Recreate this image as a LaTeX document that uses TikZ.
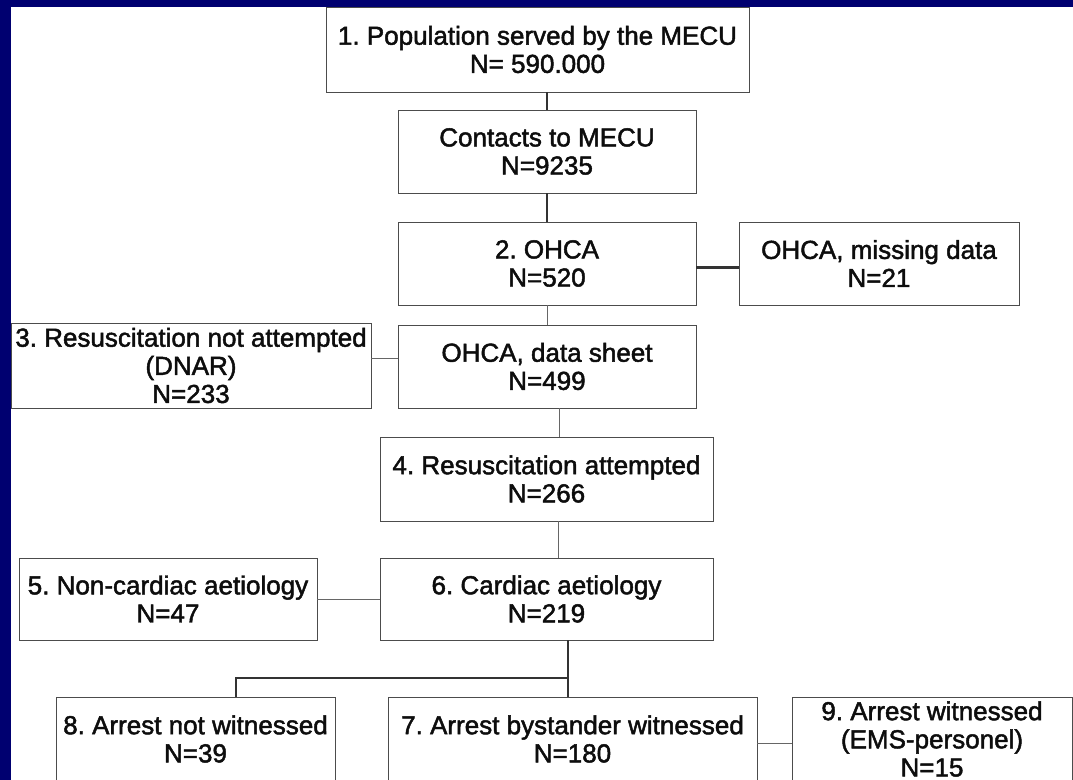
\documentclass[tikz,border=0pt]{standalone}
\usepackage{fontspec}
\setmainfont{Liberation Sans}
\newfontfamily\boxfont{Liberation Sans}[FakeBold=1.8]
\usepackage{tikz}
\frenchspacing
\definecolor{navyback}{RGB}{0,0,112}
\tikzset{
  flowbox/.style={draw=black!70, line width=0.6pt, fill=white, align=center,
    inner sep=0pt, text=black!95, font=\boxfont\fontsize{18.5}{20}\selectfont},
  thinlink/.style={draw=black!60, line width=0.6pt},
  thicklink/.style={draw=black!80, line width=2pt}
}

\begin{document}
\begin{tikzpicture}[x=0.025cm, y=-0.025cm]
\useasboundingbox (0,0) rectangle (1073,780);
\fill[navyback] (0,0) rectangle (1073,780);
\fill[white] (11,7) rectangle (1073,780);
\clip (0,0) rectangle (1073,780);

\node[flowbox, minimum width=10.575cm, minimum height=2.125cm] (pop) at (537.5,49.5) {1. Population served by the MECU\\N= 590.000};
\node[flowbox, minimum width=7.45cm, minimum height=2.075cm] (contacts) at (547,151.5) {Contacts to MECU\\N=9235};
\node[flowbox, minimum width=7.45cm, minimum height=2.075cm] (ohca) at (547,263.5) {2. OHCA\\N=520};
\node[flowbox, minimum width=7cm, minimum height=2.075cm] (missing) at (879,263.5) {OHCA, missing data\\N=21};
\node[flowbox, minimum width=7.45cm, minimum height=2.075cm] (sheet) at (547,366.5) {OHCA, data sheet\\N=499};
\node[flowbox, minimum width=9cm, minimum height=2.125cm] (dnar) at (191,365.5) {3. Resuscitation not attempted\\(DNAR)\\N=233};
\node[flowbox, minimum width=8.325cm, minimum height=2.1cm] (res) at (546.5,479) {4. Resuscitation attempted\\N=266};
\node[flowbox, minimum width=7.45cm, minimum height=2.05cm] (noncard) at (168,599) {5. Non-cardiac aetiology\\N=47};
\node[flowbox, minimum width=8.325cm, minimum height=2.05cm] (card) at (546.5,599) {6. Cardiac aetiology\\N=219};
\node[flowbox, minimum width=6.975cm, minimum height=2.1cm] (notw) at (195.5,739) {8. Arrest not witnessed\\N=39};
\node[flowbox, minimum width=9.225cm, minimum height=2.1cm] (byst) at (572.5,739) {7. Arrest bystander witnessed\\N=180};
\node[flowbox, minimum width=7cm, minimum height=2.1cm] (ems) at (932,739) {9. Arrest witnessed\\(EMS-personel)\\N=15};

% main line
\draw[thicklink] (pop.south -| contacts.north) -- (contacts.north);
\draw[thicklink] (contacts) -- (ohca);
\draw[thicklink] ([yshift=-0.11cm]ohca.east) -- ([yshift=-0.11cm]missing.west);
\draw[thinlink] (ohca) -- (sheet);
\draw[thinlink] ([yshift=0.17cm]dnar.east) -- ([yshift=0.17cm]dnar.east -| sheet.west);
\draw[thinlink] ([xshift=0.3cm]sheet.south) -- ([xshift=0.3cm]sheet.south |- res.north);
\draw[thinlink] ([xshift=0.3cm]res.south) -- ([xshift=0.3cm]res.south |- card.north);
\draw[thinlink] (noncard) -- (card);

% split below cardiac
\coordinate (split) at (568,678);
\coordinate (bend) at (236,678);
\draw[thicklink] (card.south -| split) -- (byst.north -| split);
\draw[thicklink] (split) -- (bend) -- (bend |- notw.north);
\draw[thinlink] ([yshift=-0.1cm]byst.east) -- ([yshift=-0.1cm]ems.west);
\end{tikzpicture}
\end{document}
